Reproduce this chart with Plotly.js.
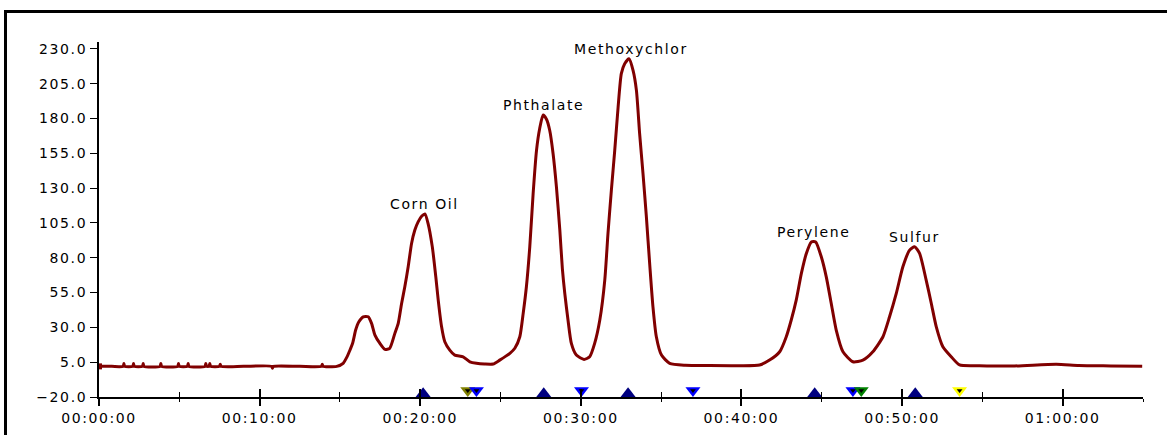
<!DOCTYPE html>
<html>
<head>
<meta charset="utf-8">
<script src="https://cdn.plot.ly/plotly-3.0.1.min.js"></script>
<style>
  html, body { margin: 0; padding: 0; background: #fff; overflow: hidden; }
  #wrap { position: relative; width: 1167px; height: 435px; overflow: hidden; }
  #chart { position: absolute; left: 0; top: 0; width: 1167px; height: 435px; }
  #frame { position: absolute; left: 4px; top: 10px; width: 1300px; height: 600px;
           border: 3px solid #000; box-sizing: border-box; pointer-events: none; }
  .xtick text, .ytick text { letter-spacing: 1.6px; }
  .annotation-text { letter-spacing: 1.6px; }
</style>
</head>
<body>
<div id="wrap">
  <div id="chart"></div>
  <div id="frame"></div>
</div>
<script>
// ---- data (time in minutes, detector signal) ----
const timeMin = [
  0, 0.8, 1.5, 1.55, 1.6, 2.1, 2.15, 2.2, 2.7, 2.75, 2.8, 3.8, 3.85, 3.9,
  4.9, 4.95, 5.0, 5.5, 5.55, 5.6, 6.6, 6.65, 6.7, 6.85, 6.9, 6.95, 7.5, 7.55, 7.6,
  9.0, 10.75, 10.8, 10.85, 12.5, 13.85, 13.9, 13.95, 14.8,
  15.2, 15.45, 15.6, 15.8, 15.98, 16.18, 16.45, 16.76, 16.97, 17.18, 17.49, 17.8,
  18.1, 18.42, 18.63, 18.84, 19.04, 19.25, 19.46, 19.66, 19.87, 20.1, 20.29, 20.49,
  20.75, 20.97, 21.12, 21.33, 21.53, 21.84, 22.15, 22.67, 23.09, 23.5, 24.0, 24.54,
  24.95, 25.58, 25.89, 26.2, 26.41, 26.61, 26.82, 27.03, 27.24, 27.44, 27.65, 27.86,
  28.06, 28.27, 28.48, 28.69, 28.85, 29.0, 29.2, 29.41, 29.72, 30.2, 30.55, 30.86,
  31.18, 31.49, 31.69, 31.9, 32.11, 32.32, 32.52, 32.73, 33.0, 33.25, 33.46, 33.66,
  33.87, 34.08, 34.29, 34.49, 34.7, 35.02, 35.53, 36.5, 38.0, 39.9, 41.13, 41.75,
  42.38, 42.79, 43.1, 43.41, 43.73, 44.04, 44.35, 44.62, 44.97, 45.28, 45.59, 45.9,
  46.32, 46.94, 47.56, 48.18, 48.81, 49.22, 49.64, 50.05, 50.47, 50.78, 51.09, 51.5,
  51.82, 52.13, 52.54, 53.06, 53.58, 54.82, 57.0, 59.6, 61.0, 63.0, 64.95
];
const signal = [
  2.0, 2.0, 2.0, 4.0, 2.0, 2.0, 4.0, 2.0, 2.0, 4.0, 2.0, 2.0, 4.0, 2.0,
  2.0, 4.0, 2.0, 2.0, 4.0, 2.0, 2.0, 4.0, 2.0, 2.0, 4.0, 2.0, 2.0, 3.6, 2.0,
  2.0, 2.0, 0.6, 2.0, 2.0, 2.0, 3.6, 2.0, 2.0,
  4.2, 9.0, 13.0, 19.0, 28.1, 34.0, 37.6, 37.6, 32.9, 24.5, 18.5, 14.2,
  15.0, 25.7, 32.9, 47.2, 59.2, 73.5, 90.3, 99.8, 105.8, 110.0, 111.5, 104.6,
  88.0, 66.3, 49.6, 30.4, 19.7, 13.7, 10.1, 8.9, 5.3, 4.2, 3.7, 3.7,
  6.5, 11.4, 15.0, 23.3, 40.1, 59.2, 87.9, 126.2, 157.2, 173.0, 182.5, 179.5,
  171.6, 154.9, 130.9, 100.0, 72.0, 54.4, 35.3, 18.5, 10.1, 7.0, 8.9, 18.5,
  35.3, 64.0, 97.5, 128.5, 157.2, 188.3, 212.3, 219.4, 223.0, 214.6, 200.3, 169.2,
  140.5, 109.4, 75.0, 44.8, 23.3, 10.1, 4.2, 2.8, 2.6, 2.5, 3.0, 6.5,
  12.5, 23.3, 35.3, 49.6, 68.8, 83.1, 91.4, 91.4, 80.7, 66.3, 47.2, 28.1,
  12.5, 5.3, 6.5, 12.5, 23.3, 37.6, 54.4, 73.5, 85.5, 87.9, 83.1, 64.0,
  47.2, 30.4, 16.1, 8.9, 3.0, 2.5, 2.3, 3.5, 2.6, 2.3, 2.0
];

// peak labels
const peakNames   = ["Corn Oil", "Phthalate", "Methoxychlor", "Perylene", "Sulfur"];
const peakTimes   = [20.26, 27.65, 33.1, 44.5, 50.8];
const peakHeights = [111.5, 182.5, 223.0, 91.4, 87.9];

// integration event markers along the time axis
const startTimes      = [20.18, 27.69, 32.94, 44.56, 50.82];
const endTimes        = [22.96, 23.5, 30.04, 36.98, 46.94, 47.46, 53.58];
const endColors       = ["#808000", "#0000ff", "#0000ff", "#0000ff", "#0000ff", "#008000", "#ffff00"];

// axis ticks
const xTickVals  = [0, 10, 20, 30, 40, 50, 60];
const xTickText  = ["00:00:00", "00:10:00", "00:20:00", "00:30:00", "00:40:00", "00:50:00", "01:00:00"];
const xMinorVals = [5, 15, 25, 35, 45, 55, 65];
const yTickVals  = [-20, 5, 30, 55, 80, 105, 130, 155, 180, 205, 230];

const FONT = "DejaVu Sans, Verdana, sans-serif";
const startLevel = -17.7;
const endLevel = -15.3;

const traces = [
  {
    x: timeMin, y: signal, type: "scatter", mode: "lines",
    line: { color: "#800000", width: 3, shape: "spline", smoothing: 0.6 },
    hoverinfo: "skip"
  },
  {
    x: [timeMin[0]], y: [signal[0]], type: "scatter", mode: "markers",
    marker: { color: "#800000", symbol: "square", size: 6 },
    hoverinfo: "skip"
  },
  {
    x: startTimes, y: startTimes.map(() => startLevel), xaxis: "x2",
    type: "scatter", mode: "markers", cliponaxis: false,
    marker: { symbol: "triangle-up", size: 13, color: "#000080", line: { width: 0 } },
    hoverinfo: "skip"
  },
  {
    x: endTimes, y: endTimes.map(() => endLevel), xaxis: "x2",
    type: "scatter", mode: "markers", cliponaxis: false,
    marker: { symbol: "triangle-down", size: 13, color: endColors, line: { width: 0 } },
    hoverinfo: "skip"
  },
  {
    x: endTimes, y: endTimes.map(() => endLevel), xaxis: "x2",
    type: "scatter", mode: "markers", cliponaxis: false,
    marker: { symbol: "triangle-down", size: 5, color: "#000000", line: { width: 0 } },
    hoverinfo: "skip"
  }
];

const annotations = peakNames.map((name, i) => ({
  x: peakTimes[i], y: peakHeights[i], xref: "x", yref: "y",
  text: name, showarrow: false, xanchor: "center", yanchor: "bottom",
  font: { family: FONT, size: 14, color: "#000" }
}));

const layout = {
  width: 1167, height: 435,
  margin: { l: 99, r: 24, t: 42, b: 38, pad: 0 },
  paper_bgcolor: "#ffffff", plot_bgcolor: "#ffffff",
  showlegend: false,
  font: { family: FONT, size: 14, color: "#000" },
  xaxis: {
    range: [0, 65], showgrid: false, zeroline: false,
    showline: true, linecolor: "#000", linewidth: 2,
    tickmode: "array", tickvals: xTickVals, ticktext: xTickText,
    ticks: "outside", ticklen: 7, tickwidth: 2, tickcolor: "#000",
    tickfont: { family: FONT, size: 14, color: "#000" },
    minor: { tickvals: xMinorVals, ticks: "outside", ticklen: 3, tickwidth: 1, tickcolor: "#000", showgrid: false },
    fixedrange: true
  },
  xaxis2: {
    range: [0, 65], overlaying: "x", anchor: "y", showgrid: false, zeroline: false,
    showline: false, showticklabels: false,
    tickmode: "array", tickvals: xTickVals,
    ticks: "inside", ticklen: 8, tickwidth: 2, tickcolor: "#000",
    minor: { tickvals: xMinorVals, ticks: "inside", ticklen: 5, tickwidth: 1, tickcolor: "#000", showgrid: false },
    fixedrange: true
  },
  yaxis: {
    range: [-20, 235], showgrid: false, zeroline: false,
    showline: true, linecolor: "#000", linewidth: 2,
    tickmode: "array", tickvals: yTickVals, tickformat: ".1f",
    ticks: "outside", ticklen: 7, tickwidth: 1, tickcolor: "#000",
    tickfont: { family: FONT, size: 14, color: "#000" },
    fixedrange: true
  },
  annotations: annotations
};

Plotly.newPlot("chart", traces, layout, { displayModeBar: false, staticPlot: true });
</script>
</body>
</html>
